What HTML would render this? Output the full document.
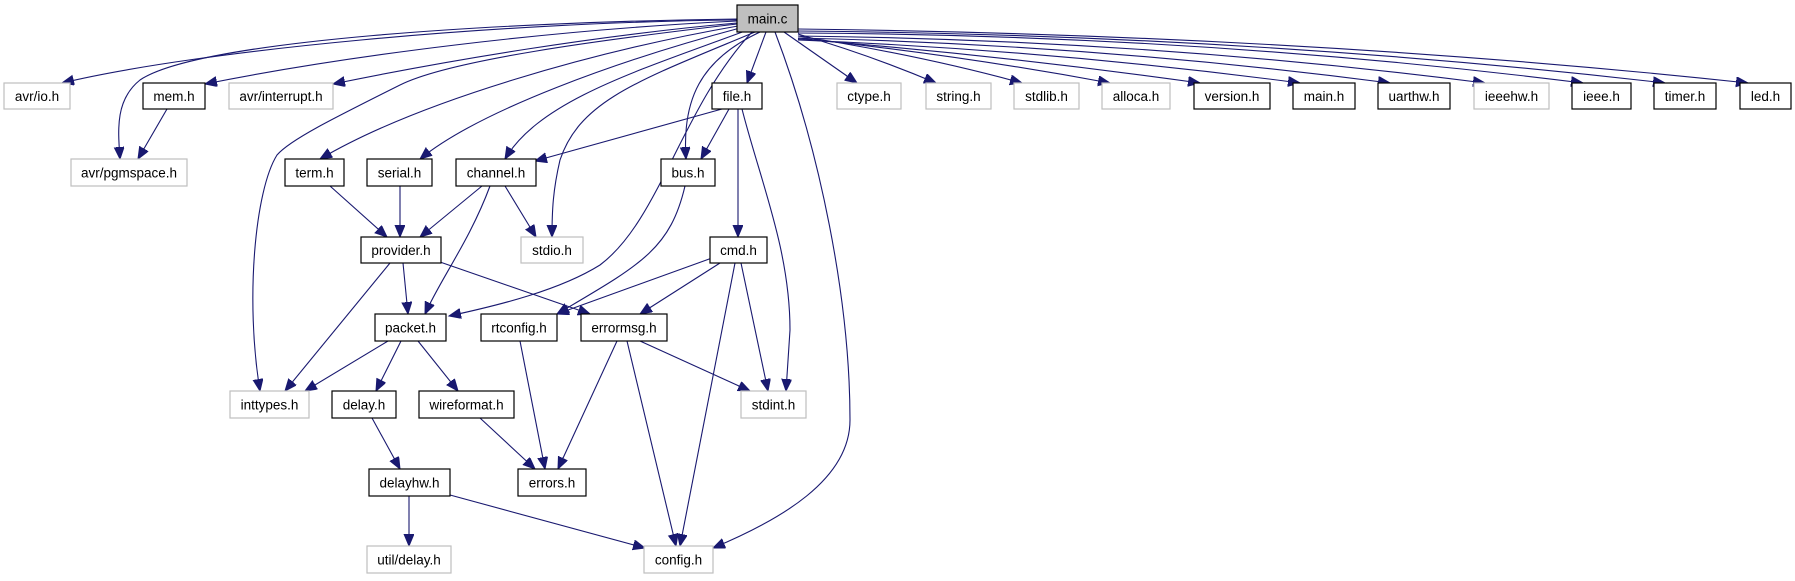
<!DOCTYPE html>
<html><head><meta charset="utf-8"><style>
html,body{margin:0;padding:0;background:#fff;}
svg{display:block;}
text{font-family:"Liberation Sans",Arial,sans-serif;font-size:13.5px;fill:#000;text-anchor:middle;}
.e{fill:none;stroke:#191970;stroke-width:1.1;marker-end:url(#a);}
.b{fill:#fff;stroke:#000;stroke-width:1.2;}
.g{fill:#fff;stroke:#bfbfbf;stroke-width:1.2;}
</style></head><body>
<svg width="1795" height="581" viewBox="0 0 1795 581" xmlns="http://www.w3.org/2000/svg">
<defs><marker id="a" markerUnits="userSpaceOnUse" markerWidth="14" markerHeight="12" refX="12" refY="5" orient="auto"><path d="M0,0 L12,5 L0,10 z" fill="#191970" stroke="#191970"/></marker></defs>
<!-- edges from main.c left -->
<path class="e" d="M737,20 C500,22 200,50 62,83"/>
<path class="e" d="M737,19 C500,22 200,40 140,80 C115,100 118,130 120,159"/>
<path class="e" d="M737,21 C550,30 350,55 205,84"/>
<path class="e" d="M737,23 C600,35 450,60 333,84"/>
<path class="e" d="M737,24 C600,40 450,60 400,85 C330,120 290,140 277,155 C255,190 245,300 260,391"/>
<path class="e" d="M738,26 C600,50 420,100 320,159"/>
<path class="e" d="M740,28 C620,60 480,110 420,159"/>
<path class="e" d="M745,31 C640,70 540,100 505,159"/>
<path class="e" d="M752,32 C680,110 660,220 600,265 C560,290 500,305 449,316"/>
<path class="e" d="M755,32 C640,80 580,100 560,160 C553,190 552,210 552,237"/>
<path class="e" d="M760,32 C700,60 682,100 686,159"/>
<path class="e" d="M775,32 C820,150 850,300 850,420 C850,480 780,520 713,548"/>
<!-- main.c right -->
<path class="e" d="M766,32 L747,83"/>
<path class="e" d="M784,32 L857,83"/>
<path class="e" d="M798,34 Q870,55 936,83"/>
<path class="e" d="M798,36 Q920,55 1022,83"/>
<path class="e" d="M798,38 Q960,55 1110,83"/>
<path class="e" d="M798,39 Q1000,55 1200,83"/>
<path class="e" d="M798,40 Q1050,50 1300,83"/>
<path class="e" d="M798,38 Q1100,45 1390,83"/>
<path class="e" d="M798,36 Q1150,40 1485,83"/>
<path class="e" d="M798,33 Q1200,35 1583,83"/>
<path class="e" d="M798,31 Q1250,35 1665,83"/>
<path class="e" d="M798,29 Q1300,35 1748,83"/>
<!-- others -->
<path class="e" d="M167,109 L138,159"/>
<path class="e" d="M722,109 L535,161"/>
<path class="e" d="M729,109 L701,159"/>
<path class="e" d="M738,109 L738,237"/>
<path class="e" d="M742,109 C760,180 790,250 790,330 L786,391"/>
<path class="e" d="M330,186 L387,237"/>
<path class="e" d="M400,186 L400,237"/>
<path class="e" d="M482,186 L420,237"/>
<path class="e" d="M490,186 C470,240 440,280 425,314"/>
<path class="e" d="M505,186 L536,237"/>
<path class="e" d="M685,186 C670,250 640,265 557,314"/>
<path class="e" d="M712,258 L557,314"/>
<path class="e" d="M720,263 L640,314"/>
<path class="e" d="M735,263 L680,546"/>
<path class="e" d="M741,263 L768,391"/>
<path class="e" d="M390,263 L285,391"/>
<path class="e" d="M403,263 L408,314"/>
<path class="e" d="M440,262 L590,314"/>
<path class="e" d="M388,341 L305,391"/>
<path class="e" d="M401,341 L376,391"/>
<path class="e" d="M418,341 L458,391"/>
<path class="e" d="M520,341 L545,469"/>
<path class="e" d="M617,341 L558,469"/>
<path class="e" d="M627,341 L676,546"/>
<path class="e" d="M640,341 L750,391"/>
<path class="e" d="M372,418 L400,469"/>
<path class="e" d="M480,418 L535,469"/>
<path class="e" d="M409,496 L409,546"/>
<path class="e" d="M450,495 L645,548"/>
<!-- nodes -->
<rect x="737" y="5" width="61" height="27" fill="#bfbfbf" stroke="#000" stroke-width="1.2"/><text x="767.5" y="23.5">main.c</text>
<rect class="g" x="4" y="83" width="66" height="26"/><text x="37" y="101">avr/io.h</text>
<rect class="b" x="143" y="83" width="62" height="26"/><text x="174" y="101">mem.h</text>
<rect class="g" x="229" y="83" width="104" height="26"/><text x="281" y="101">avr/interrupt.h</text>
<rect class="b" x="712" y="83" width="50" height="26"/><text x="737" y="101">file.h</text>
<rect class="g" x="837" y="83" width="64" height="26"/><text x="869" y="101">ctype.h</text>
<rect class="g" x="926" y="83" width="65" height="26"/><text x="958.5" y="101">string.h</text>
<rect class="g" x="1014" y="83" width="65" height="26"/><text x="1046.5" y="101">stdlib.h</text>
<rect class="g" x="1102" y="83" width="68" height="26"/><text x="1136" y="101">alloca.h</text>
<rect class="b" x="1194" y="83" width="76" height="26"/><text x="1232" y="101">version.h</text>
<rect class="b" x="1293" y="83" width="62" height="26"/><text x="1324" y="101">main.h</text>
<rect class="b" x="1378" y="83" width="72" height="26"/><text x="1414" y="101">uarthw.h</text>
<rect class="g" x="1474" y="83" width="75" height="26"/><text x="1511.5" y="101">ieeehw.h</text>
<rect class="b" x="1572" y="83" width="59" height="26"/><text x="1601.5" y="101">ieee.h</text>
<rect class="b" x="1654" y="83" width="62" height="26"/><text x="1685" y="101">timer.h</text>
<rect class="b" x="1740" y="83" width="51" height="26"/><text x="1765.5" y="101">led.h</text>
<rect class="g" x="71" y="159" width="116" height="27"/><text x="129" y="177.5">avr/pgmspace.h</text>
<rect class="b" x="285" y="159" width="59" height="27"/><text x="314.5" y="177.5">term.h</text>
<rect class="b" x="367" y="159" width="65" height="27"/><text x="399.5" y="177.5">serial.h</text>
<rect class="b" x="456" y="159" width="80" height="27"/><text x="496" y="177.5">channel.h</text>
<rect class="b" x="661" y="159" width="54" height="27"/><text x="688" y="177.5">bus.h</text>
<rect class="b" x="361" y="237" width="80" height="26"/><text x="401" y="255">provider.h</text>
<rect class="g" x="521" y="237" width="62" height="26"/><text x="552" y="255">stdio.h</text>
<rect class="b" x="710" y="237" width="57" height="26"/><text x="738.5" y="255">cmd.h</text>
<rect class="b" x="375" y="314" width="71" height="27"/><text x="410.5" y="332.5">packet.h</text>
<rect class="b" x="481" y="314" width="76" height="27"/><text x="519" y="332.5">rtconfig.h</text>
<rect class="b" x="581" y="314" width="86" height="27"/><text x="624" y="332.5">errormsg.h</text>
<rect class="g" x="230" y="391" width="79" height="27"/><text x="269.5" y="409.5">inttypes.h</text>
<rect class="b" x="332" y="391" width="64" height="27"/><text x="364" y="409.5">delay.h</text>
<rect class="b" x="419" y="391" width="95" height="27"/><text x="466.5" y="409.5">wireformat.h</text>
<rect class="g" x="741" y="391" width="65" height="27"/><text x="773.5" y="409.5">stdint.h</text>
<rect class="b" x="369" y="469" width="81" height="27"/><text x="409.5" y="487.5">delayhw.h</text>
<rect class="b" x="518" y="469" width="68" height="27"/><text x="552" y="487.5">errors.h</text>
<rect class="g" x="367" y="546" width="84" height="27"/><text x="409" y="564.5">util/delay.h</text>
<rect class="g" x="644" y="546" width="69" height="27"/><text x="678.5" y="564.5">config.h</text>
</svg>
</body></html>
